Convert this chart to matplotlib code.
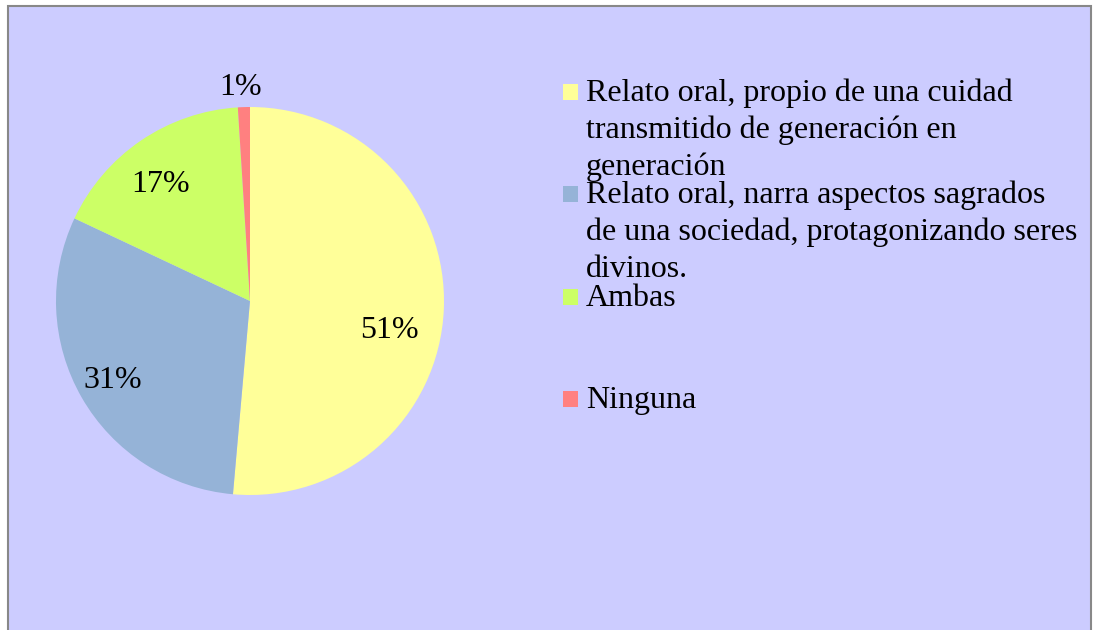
import matplotlib.pyplot as plt
from matplotlib.patches import Rectangle

# Data
labels = [
    "Relato oral, propio de una cuidad\ntransmitido de generación en\ngeneración",
    "Relato oral, narra aspectos sagrados\nde una sociedad, protagonizando seres\ndivinos.",
    "Ambas",
    "Ninguna",
]
values = [51.4, 30.6, 17, 1]
colors = ["#FFFF99", "#95B3D7", "#CCFF66", "#FF8080"]

# label positions inside the pie (radius units), as placed in the original
pct_pos = [(0.72, -0.15), (-0.71, -0.41), (-0.46, 0.60), (-0.05, 1.10)]

plt.rcParams["font.family"] = ["Liberation Serif", "DejaVu Serif"]
FS = 23
W, H = 1094, 630

fig = plt.figure(figsize=(W / 100, H / 100), dpi=100)
fig.patch.set_facecolor("white")

# chart area background with grey frame
fig.patches.append(Rectangle((8 / W, -0.05), (1091 - 8) / W, (H - 6) / H + 0.05,
                             transform=fig.transFigure, facecolor="#CCCCFF",
                             edgecolor="#888888", linewidth=1.5, zorder=-1))

cx, cy, r = 250, 301, 194
ax = fig.add_axes([(cx - r) / W, (H - cy - r) / H, 2 * r / W, 2 * r / H])
ax.set_zorder(1)
ax.set_facecolor("none")
wedges, texts, autotexts = ax.pie(values, colors=colors, startangle=90,
                                  counterclock=False, radius=1,
                                  autopct="%1.0f%%",
                                  wedgeprops=dict(linewidth=0),
                                  textprops=dict(fontsize=FS, color="black"))
for t, (x, y) in zip(autotexts, pct_pos):
    t.set_position((x, y))
    t.set_ha("center")
    t.set_va("center")
ax.set_xlim(-1, 1)
ax.set_ylim(-1, 1)
ax.set_aspect("equal")
ax.axis("off")

# hand-made legend
entry_top = [100.7, 203, 306, 408]   # baseline of first line, pixels from top
line_gap = 37
for lab, col, y0 in zip(labels, colors, entry_top):
    fig.patches.append(Rectangle((563 / W, 1 - (y0 - 1) / H), 15 / W, 16 / H,
                                 transform=fig.transFigure, facecolor=col,
                                 edgecolor="none", zorder=2))
    for i, line in enumerate(lab.split("\n")):
        fig.text(586 / W, 1 - (y0 + i * line_gap) / H, line, fontsize=FS,
                 ha="left", va="baseline")

fig.savefig("out.png", dpi=100)
